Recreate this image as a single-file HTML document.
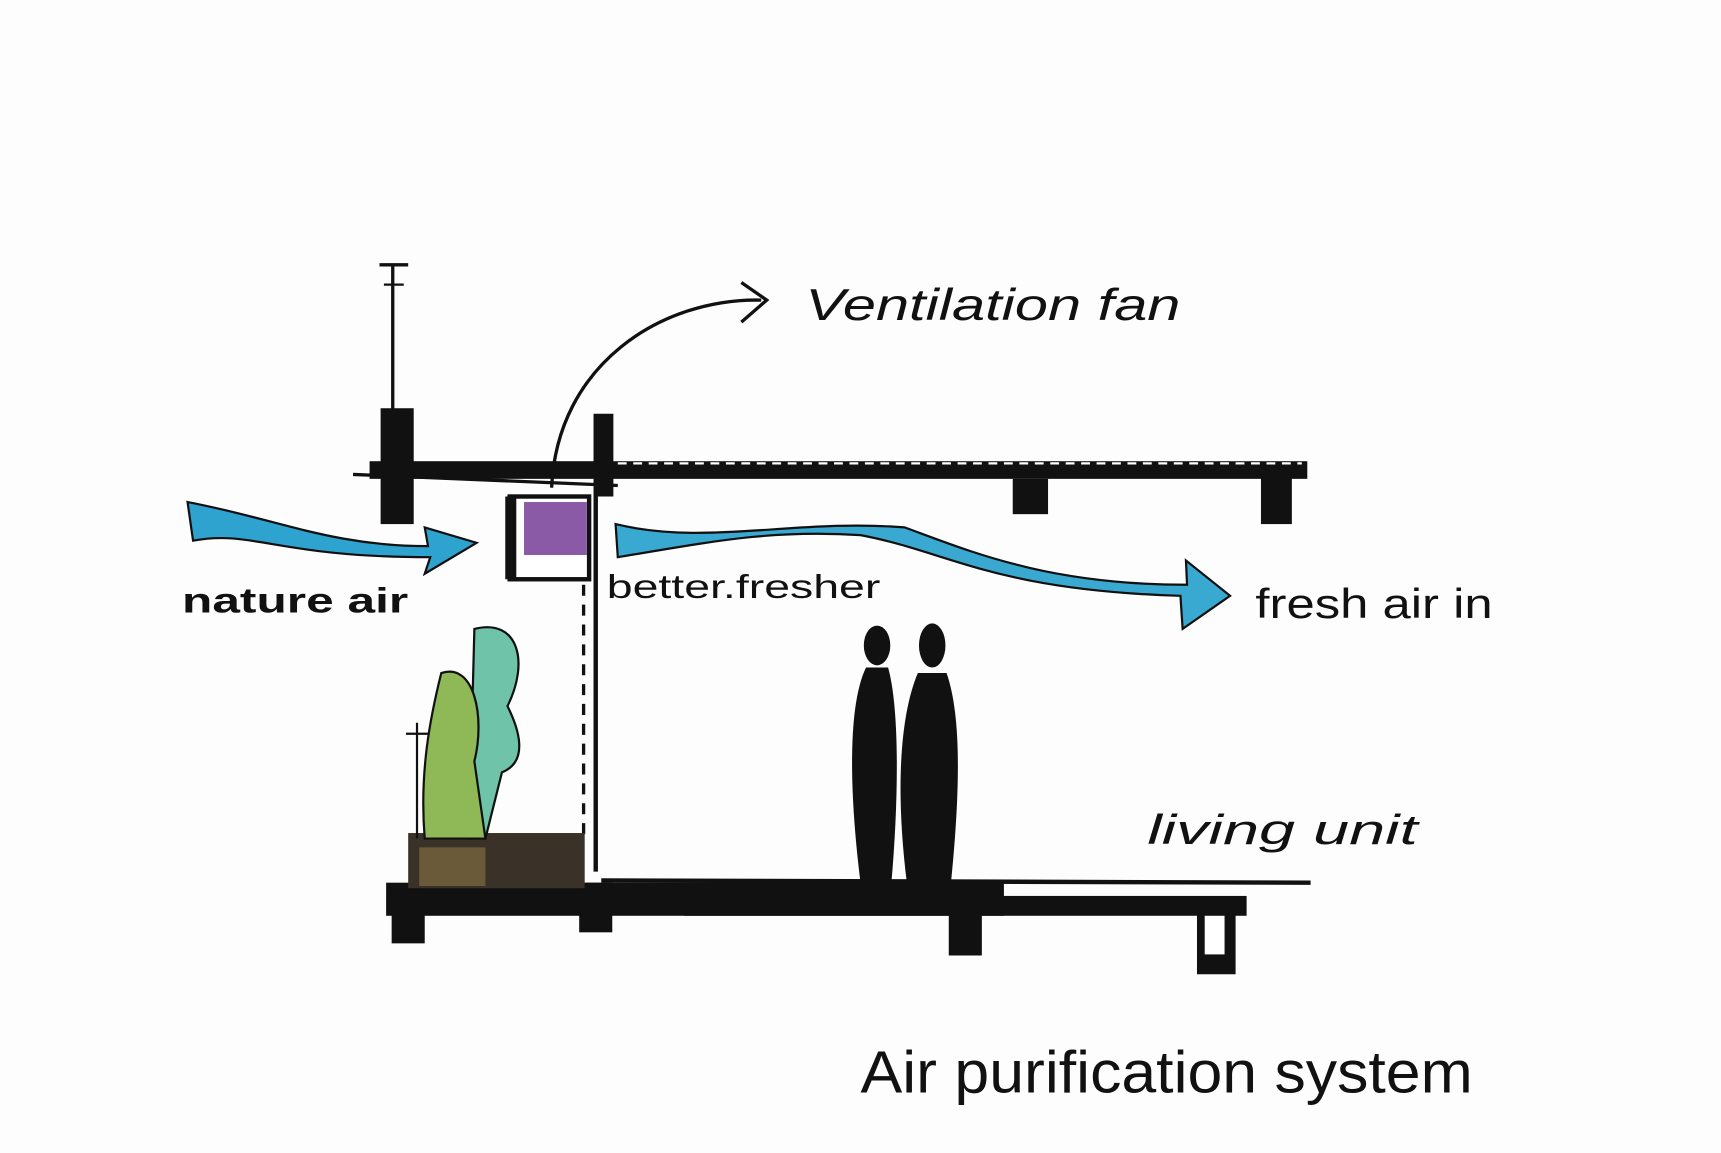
<!DOCTYPE html>
<html><head><meta charset="utf-8"><style>
html,body{margin:0;padding:0;background:#fff;}
svg{display:block;}
text{font-family:"Liberation Sans","DejaVu Sans",sans-serif;fill:#111;}
</style></head><body>
<svg width="1721" height="1153" viewBox="0 0 1560 1045" preserveAspectRatio="none" xmlns="http://www.w3.org/2000/svg">
<rect width="1560" height="1045" fill="#fdfdfd"/>
<!-- top slab -->
<rect x="335" y="418" width="850" height="16" fill="#111"/>
<path d="M560 420 L1180 420" stroke="#fff" stroke-width="2" stroke-dasharray="8 6"/>
<line x1="320" y1="430" x2="560" y2="440" stroke="#111" stroke-width="3"/>
<rect x="918" y="434" width="32" height="32" fill="#111"/>
<rect x="1143" y="430" width="28" height="45" fill="#111"/>
<!-- left column with antenna -->
<line x1="356" y1="240" x2="356" y2="375" stroke="#111" stroke-width="3"/>
<line x1="344" y1="240" x2="370" y2="240" stroke="#111" stroke-width="3"/>
<line x1="348" y1="258" x2="366" y2="258" stroke="#111" stroke-width="2"/>
<rect x="345" y="370" width="30" height="105" fill="#111"/>
<!-- right column -->
<rect x="538" y="375" width="18" height="75" fill="#111"/>
<!-- purple box -->
<rect x="462" y="450" width="72" height="75" fill="#fff" stroke="#111" stroke-width="4"/>
<rect x="475" y="455" width="57" height="48" fill="#8a5aa6"/>
<rect x="458" y="450" width="10" height="75" fill="#111"/>
<!-- walls -->
<line x1="540" y1="450" x2="540" y2="790" stroke="#111" stroke-width="4"/>
<line x1="529" y1="530" x2="529" y2="760" stroke="#111" stroke-width="3" stroke-dasharray="10 8"/>
<!-- ventilation curve -->
<path d="M500 442 C505 330 600 270 690 272" fill="none" stroke="#111" stroke-width="3"/>
<path d="M672 256 L695 272 L672 292" fill="none" stroke="#111" stroke-width="3"/>
<!-- nature air arrow -->
<path d="M170 455 L175 490 C230 480 250 505 390 505 L385 520 L432 492 L385 478 L388 495 C300 495 250 470 170 455Z" fill="#2fa3cf" stroke="#111" stroke-width="2"/>
<!-- fresh air arrow -->
<path d="M558 475 L560 505 C650 490 700 480 780 485 C860 500 900 535 1070 540 L1072 570 L1115 540 L1075 508 L1076 530 C950 530 880 500 820 478 C720 470 640 495 558 475Z" fill="#3aa9d1" stroke="#111" stroke-width="2"/>
<!-- floor slab -->
<line x1="545" y1="798" x2="1188" y2="800" stroke="#111" stroke-width="4"/>
<rect x="350" y="800" width="560" height="30" fill="#111"/>
<rect x="620" y="812" width="510" height="18" fill="#111"/>
<rect x="355" y="810" width="30" height="45" fill="#111"/>
<rect x="525" y="800" width="30" height="45" fill="#111"/>
<rect x="860" y="828" width="30" height="38" fill="#111"/>
<rect x="1085" y="815" width="35" height="68" fill="#111"/>
<rect x="1092" y="830" width="18" height="35" fill="#fff"/>
<!-- planter -->
<rect x="370" y="755" width="160" height="50" fill="#3a3228"/>
<rect x="380" y="768" width="60" height="35" fill="#6b5a3a"/>
<!-- plants -->
<path d="M430 570 C470 560 480 600 460 640 C470 660 480 690 455 700 L440 760 L425 760 Z" fill="#6ec3a8" stroke="#111" stroke-width="2"/>
<path d="M400 610 C430 600 440 650 430 690 L440 760 L385 760 C380 700 390 650 400 610Z" fill="#8fb857" stroke="#111" stroke-width="2"/>
<line x1="378" y1="655" x2="378" y2="760" stroke="#111" stroke-width="2"/>
<line x1="368" y1="665" x2="388" y2="665" stroke="#111" stroke-width="2"/>
<!-- people -->
<ellipse cx="795" cy="585" rx="12" ry="18" fill="#111"/>
<path d="M785 605 L805 605 C815 640 815 720 808 800 L780 800 C770 720 768 640 785 605Z" fill="#111"/>
<ellipse cx="845" cy="585" rx="12" ry="20" fill="#111"/>
<path d="M832 610 L858 610 C872 650 870 720 862 800 L822 800 C812 720 815 650 832 610Z" fill="#111"/>
<!-- labels -->
<text x="730" y="290" font-size="40" font-style="italic" textLength="340" lengthAdjust="spacingAndGlyphs">Ventilation fan</text>
<text x="165" y="555" font-size="32" font-weight="bold" textLength="205" lengthAdjust="spacingAndGlyphs">nature air</text>
<text x="550" y="542" font-size="30" textLength="248" lengthAdjust="spacingAndGlyphs">better.fresher</text>
<text x="1138" y="560" font-size="38" textLength="215" lengthAdjust="spacingAndGlyphs">fresh air in</text>
<text x="1040" y="765" font-size="38" font-style="italic" textLength="245" lengthAdjust="spacingAndGlyphs">living unit</text>
<text x="780" y="990" font-size="54" textLength="555" lengthAdjust="spacingAndGlyphs">Air purification system</text>
</svg>
</body></html>
